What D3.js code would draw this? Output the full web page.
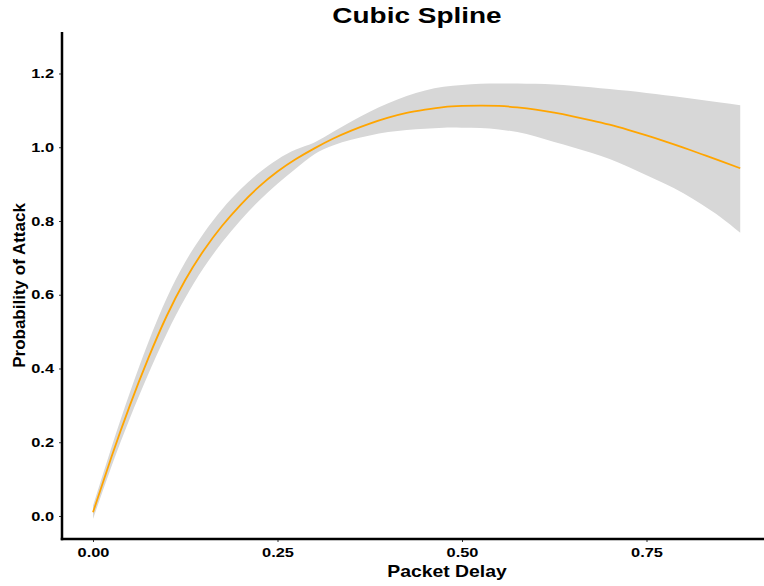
<!DOCTYPE html>
<html>
<head>
<meta charset="utf-8">
<script src="https://cdn.jsdelivr.net/npm/d3@7"></script>
<style>
  html, body { margin: 0; padding: 0; background: #ffffff; }
  svg { display: block; }
  text { font-family: "Liberation Sans", Arial, Helvetica, sans-serif; font-weight: bold; }
</style>
</head>
<body>
<svg id="chart" width="764" height="586"></svg>
<script>
// Fitted cubic spline: packet delay vs. probability of attack, with confidence band
const packetDelay = [
  0.000, 0.025, 0.050, 0.075, 0.100, 0.125, 0.150, 0.175, 0.200, 0.225,
  0.250, 0.275, 0.300, 0.325, 0.350, 0.375, 0.400, 0.425, 0.450, 0.475,
  0.500, 0.525, 0.550, 0.575, 0.600, 0.625, 0.650, 0.675, 0.700, 0.725,
  0.750, 0.775, 0.800, 0.825, 0.850, 0.877
];
const fitted = [
  0.010, 0.160, 0.300, 0.428, 0.543, 0.640, 0.720, 0.787, 0.844, 0.893,
  0.934, 0.968, 0.997, 1.023, 1.045, 1.064, 1.080, 1.093, 1.102, 1.109,
  1.112, 1.113, 1.112, 1.108, 1.102, 1.094, 1.084, 1.073, 1.061, 1.047,
  1.032, 1.016, 0.999, 0.981, 0.963, 0.943
];
const lowerBound = [
  -0.008, 0.134, 0.265, 0.385, 0.495, 0.591, 0.673, 0.742, 0.802, 0.855,
  0.901, 0.942, 0.981, 1.005, 1.020, 1.032, 1.041, 1.047, 1.050, 1.053,
  1.053, 1.052, 1.048, 1.041, 1.029, 1.014, 1.000, 0.985, 0.968, 0.947,
  0.924, 0.901, 0.875, 0.845, 0.811, 0.768
];
const upperBound = [
  0.028, 0.186, 0.335, 0.471, 0.591, 0.689, 0.767, 0.832, 0.886, 0.931,
  0.967, 0.994, 1.013, 1.041, 1.070, 1.096, 1.119, 1.139, 1.154, 1.164,
  1.169, 1.172, 1.173, 1.173, 1.172, 1.170, 1.167, 1.163, 1.158, 1.153,
  1.147, 1.141, 1.135, 1.128, 1.121, 1.114
];
const xTicks = [0, 0.25, 0.5, 0.75];
const yTicks = [0, 0.2, 0.4, 0.6, 0.8, 1.0, 1.2];

const chartTitle = "Cubic Spline";
const xTitle = "Packet Delay";
const yTitle = "Probability of Attack";

const rows = packetDelay.map((t, i) => ({
  t, fit: fitted[i], lo: lowerBound[i], hi: upperBound[i]
}));

const svg = d3.select("#chart");
const panel = { left: 62, right: 764, top: 32, bottom: 539 };

const x = d3.scaleLinear().domain([-0.042, 0.9092]).range([panel.left, panel.right]);
const y = d3.scaleLinear().domain([-0.0624, 1.3125]).range([panel.bottom, panel.top]);

// Horizontal text in this chart is set slightly wide
const widen = 1.26;
function stretch(sel, factor) {
  sel.each(function () {
    const w = this.getComputedTextLength();
    d3.select(this)
      .attr("textLength", w * factor)
      .attr("lengthAdjust", "spacingAndGlyphs");
  });
}

// Confidence band
const band = d3.area()
  .x(d => x(d.t))
  .y0(d => y(d.lo))
  .y1(d => y(d.hi))
  .curve(d3.curveNatural);

svg.append("path")
  .datum(rows)
  .attr("d", band)
  .attr("fill", "#d7d7d7");

// Fitted curve
const line = d3.line()
  .x(d => x(d.t))
  .y(d => y(d.fit))
  .curve(d3.curveNatural);

svg.append("path")
  .datum(rows)
  .attr("d", line)
  .attr("fill", "none")
  .attr("stroke", "#FFA500")
  .attr("stroke-width", 1.8);

// Axes
const xAxis = d3.axisBottom(x)
  .tickValues(xTicks)
  .tickFormat(d3.format(".2f"))
  .tickSize(3)
  .tickPadding(6);

const yAxis = d3.axisLeft(y)
  .tickValues(yTicks)
  .tickFormat(d3.format(".1f"))
  .tickSize(3)
  .tickPadding(4);

const gx = svg.append("g")
  .attr("transform", `translate(0,${panel.bottom})`)
  .call(xAxis);
gx.select(".domain").remove();
gx.selectAll(".tick line").attr("stroke", "#333333").attr("stroke-width", 1);
gx.selectAll(".tick text")
  .attr("fill", "#000000")
  .style("font-size", "13px")
  .style("font-weight", "bold")
  .attr("y", 9);

const gy = svg.append("g")
  .attr("transform", `translate(${panel.left},0)`)
  .call(yAxis);
gy.select(".domain").remove();
gy.selectAll(".tick line").attr("stroke", "#333333").attr("stroke-width", 1);
gy.selectAll(".tick text")
  .attr("fill", "#000000")
  .style("font-size", "13px")
  .style("font-weight", "bold")
  .attr("x", -8);

stretch(gx.selectAll(".tick text"), widen);
stretch(gy.selectAll(".tick text"), widen);

// Axis lines
svg.append("line")
  .attr("x1", panel.left).attr("x2", panel.left)
  .attr("y1", panel.top).attr("y2", panel.bottom + 1.25)
  .attr("stroke", "#000000").attr("stroke-width", 2.5);
svg.append("line")
  .attr("x1", panel.left - 1.25).attr("x2", panel.right)
  .attr("y1", panel.bottom).attr("y2", panel.bottom)
  .attr("stroke", "#000000").attr("stroke-width", 2.5);

// Titles
const title = svg.append("text")
  .attr("x", 417).attr("y", 23)
  .attr("text-anchor", "middle")
  .style("font-size", "22px")
  .attr("fill", "#000000")
  .text(chartTitle);
stretch(title, 1.27);

const xt = svg.append("text")
  .attr("x", 447).attr("y", 577)
  .attr("text-anchor", "middle")
  .style("font-size", "17px")
  .attr("fill", "#000000")
  .text(xTitle);
stretch(xt, 1.14);

svg.append("text")
  .attr("transform", `translate(25,${(panel.top + panel.bottom) / 2}) rotate(-90)`)
  .attr("text-anchor", "middle")
  .style("font-size", "17px")
  .attr("fill", "#000000")
  .text(yTitle);
</script>
</body>
</html>
